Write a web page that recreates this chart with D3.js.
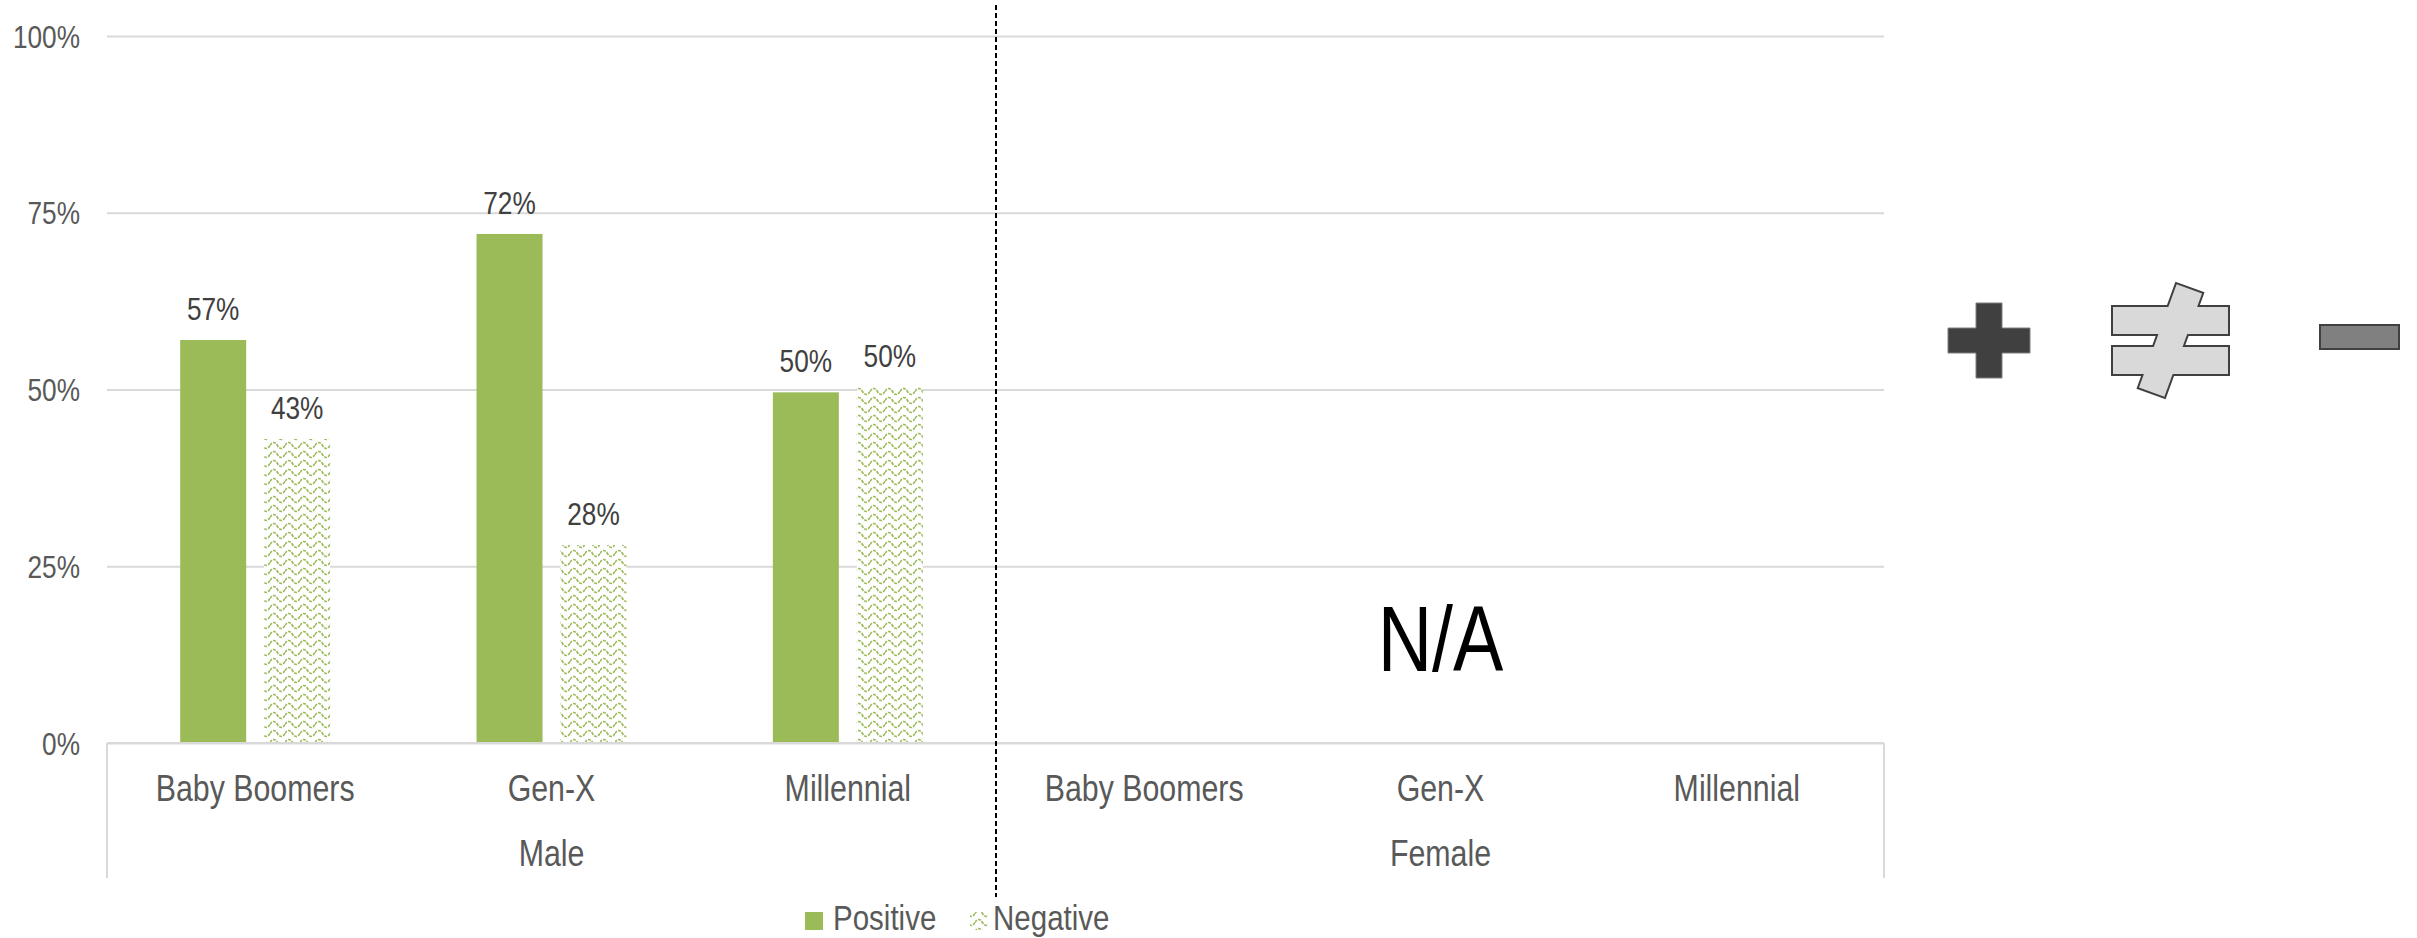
<!DOCTYPE html>
<html><head><meta charset="utf-8">
<script src="https://cdn.jsdelivr.net/npm/d3@7"></script>
<style>body{margin:0;background:#fff;} svg{display:block}</style>
</head><body><svg id="chart" width="2417" height="938"></svg>
<script>
// ---- data ----
const groups = ["Male", "Female"];
const generations = ["Baby Boomers", "Gen-X", "Millennial"];
const seriesNames = ["Positive", "Negative"];
const positiveValues = [57, 72, 49.6, null, null, null];
const negativeValues = [43, 28, 50.4, null, null, null];
const yTicks = [0, 25, 50, 75, 100];
const naText = "N/A";

// ---- setup ----
const W = 2417, H = 938;
const svg = d3.select("#chart");
const GREEN = "#9bbb59";

function measure(fam) {
  const t = svg.append("text").attr("font-family", fam).attr("font-size", 100).text("Baby Boomers");
  const w = t.node().getComputedTextLength(); t.remove(); return w;
}
const hasNarrow = measure("'Liberation Sans Narrow'") / measure("'Liberation Sans'") < 0.9;
function addText(parent, x, y, str, size, anchor, fill) {
  const t = parent.append("text").attr("font-size", size).attr("text-anchor", anchor || "middle")
    .attr("fill", fill || "#595959").text(str);
  if (hasNarrow) t.attr("font-family", "'Liberation Sans Narrow', 'Arial Narrow', sans-serif").attr("x", x).attr("y", y);
  else t.attr("font-family", "'Liberation Sans', Arial, sans-serif").attr("transform", `translate(${x},${y}) scale(0.82,1)`);
  return t;
}

const defs = svg.append("defs");
const pat = defs.append("pattern").attr("id", "wave").attr("patternUnits", "userSpaceOnUse")
  .attr("width", 15).attr("height", 9);
pat.append("rect").attr("width", 15).attr("height", 9).attr("fill", "#fff");
pat.append("path").attr("d", "M0,4.5 Q3.75,-1.5 7.5,4.5 T15,4.5").attr("fill", "none")
  .attr("stroke", GREEN).attr("stroke-width", 1.7).attr("stroke-dasharray", "3,1.2");

const categories = [];
groups.forEach(g => generations.forEach(c => categories.push(g + "|" + c)));

const plotL = 107, plotR = 1884, plotT = 36, plotB = 743;
const x0 = d3.scaleBand().domain(categories).range([plotL, plotR + 1]).paddingInner(0.494).paddingOuter(0.247);
const x1 = d3.scaleBand().domain(seriesNames).range([0, x0.bandwidth()]).paddingInner(0.214);
const y = d3.scaleLinear().domain([0, 100]).range([plotB, plotT]);
const step = x0.step();
const catCenter = c => x0(c) + x0.bandwidth() / 2;

// gridlines via axis
const grid = svg.append("g").attr("transform", `translate(${plotL},0)`)
  .call(d3.axisLeft(y).tickValues(yTicks).tickSize(-(plotR - plotL)).tickFormat(""));
grid.select(".domain").remove();
grid.selectAll("line").attr("stroke", "#d9d9d9").attr("stroke-width", 2);

// y tick labels
yTicks.forEach(v => addText(svg, 80, y(v) + 11.5, v + "%", 32, "end", "#595959"));

// bars
const rows = categories.map((c, i) => ({ cat: c, Positive: positiveValues[i], Negative: negativeValues[i] }));
const barG = svg.append("g");
rows.forEach(r => {
  seriesNames.forEach(s => {
    const v = r[s];
    if (v == null) return;
    const bx = x0(r.cat) + x1(s);
    barG.append("rect").attr("x", bx).attr("y", y(v)).attr("width", x1.bandwidth())
      .attr("height", y(0) - y(v)).attr("fill", s === "Positive" ? GREEN : "url(#wave)");
    addText(svg, bx + x1.bandwidth() / 2, y(v) - 20, Math.round(v) + "%", 32, "middle", "#404040");
  });
});

// category axis: baseline + dividers
svg.append("line").attr("x1", plotL).attr("x2", plotR).attr("y1", plotB).attr("y2", plotB)
  .attr("stroke", "#d9d9d9").attr("stroke-width", 2);
[plotL, plotR].forEach(xx => svg.append("line").attr("x1", xx).attr("x2", xx).attr("y1", plotB).attr("y2", 878)
  .attr("stroke", "#d9d9d9").attr("stroke-width", 2));
categories.forEach(c => addText(svg, catCenter(c), 801, c.split("|")[1], 37, "middle", "#595959"));
groups.forEach((g, gi) => {
  const cx = (catCenter(g + "|" + generations[0]) + catCenter(g + "|" + generations[2])) / 2;
  addText(svg, cx, 866, g, 37, "middle", "#595959");
});

// dashed separator between groups
const sepX = x0(groups[1] + "|" + generations[0]) - (step - x0.bandwidth()) / 2;
svg.append("line").attr("x1", sepX).attr("x2", sepX).attr("y1", 5).attr("y2", 897)
  .attr("stroke", "#000").attr("stroke-width", 2).attr("stroke-dasharray", "5,3");

// N/A in female panel
addText(svg, catCenter(groups[1] + "|" + generations[1]), 671, naText, 92, "middle", "#000");

// legend
const lg = svg.append("g");
lg.append("rect").attr("x", 805).attr("y", 912).attr("width", 18).attr("height", 18).attr("fill", GREEN);
addText(lg, 833, 930, seriesNames[0], 36, "start", "#595959");
lg.append("rect").attr("x", 970).attr("y", 912).attr("width", 18).attr("height", 18).attr("fill", "url(#wave)");
addText(lg, 993, 930, seriesNames[1], 36, "start", "#595959");

// icons (+, ≠, −)
const icons = svg.append("g");
// plus
const pc = [1989, 340.5];
icons.append("path").attr("d",
  `M${pc[0]-41},${pc[1]-12.5}h28v-25h26v25h28v25h-28v25h-26v-25h-28z`)
  .attr("fill", "#404040").attr("stroke", "#7f7f7f").attr("stroke-width", 1);
// not equal: union outline trick
const ne = [2170.5, 340.5];
function neShapes(g, fill, stroke, sw) {
  g.append("rect").attr("x", ne[0]-57.5).attr("y", ne[1]-33.5).attr("width", 115).attr("height", 27)
    .attr("fill", fill).attr("stroke", stroke).attr("stroke-width", sw);
  g.append("rect").attr("x", ne[0]-57.5).attr("y", ne[1]+6.5).attr("width", 115).attr("height", 27)
    .attr("fill", fill).attr("stroke", stroke).attr("stroke-width", sw);
  g.append("rect").attr("x", -13.5).attr("y", -55).attr("width", 27).attr("height", 110)
    .attr("transform", `translate(${ne[0]},${ne[1]}) rotate(20)`)
    .attr("fill", fill).attr("stroke", stroke).attr("stroke-width", sw);
}
neShapes(icons.append("g"), "#404040", "#404040", 4);
neShapes(icons.append("g"), "#d9d9d9", "none", 0);
// minus
icons.append("rect").attr("x", 2320).attr("y", 325).attr("width", 79).attr("height", 24)
  .attr("fill", "#808080").attr("stroke", "#404040").attr("stroke-width", 2);
</script></body></html>
